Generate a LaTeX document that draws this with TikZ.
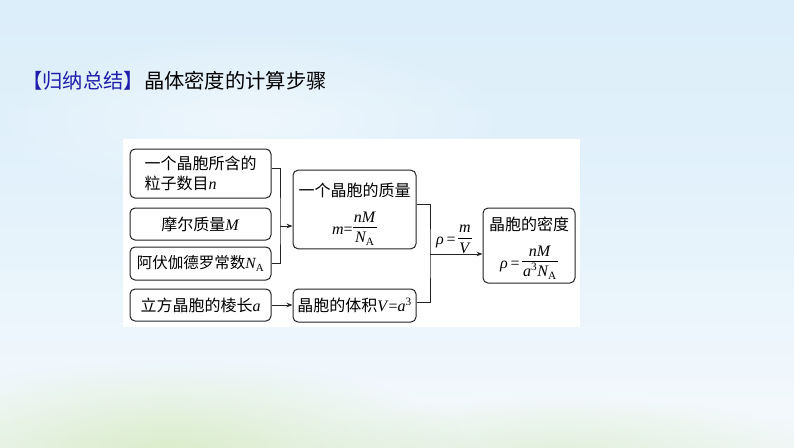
\documentclass[tikz,border=0pt]{standalone}
\usepackage{fontspec}
\setmainfont{Liberation Serif}
\newfontfamily\cjk{Noto Sans CJK SC}
\usetikzlibrary{arrows.meta,calc,fadings}
\definecolor{ttlblue}{RGB}{30,30,170}
\definecolor{bgT}{RGB}{212,234,248}
\definecolor{bgU}{RGB}{226,241,251}
\definecolor{bgM}{RGB}{242,248,252}
\definecolor{bgB}{RGB}{236,244,228}
\definecolor{grass}{RGB}{200,228,165}
\definecolor{lineC}{RGB}{35,35,35}
\pgfdeclareverticalshading{bgshade}{100bp}{color(0bp)=(bgB); color(30bp)=(bgM); color(55bp)=(bgU); color(100bp)=(bgT)}
\tikzfading[name=softfade, inner color=transparent!0, outer color=transparent!100]
\newcommand\frc[2]{\raisebox{0.1em}{\renewcommand\arraystretch{1.15}\setlength\tabcolsep{1pt}\setlength\arrayrulewidth{0.8pt}\begin{tabular}{c}#1\\[-1pt]\hline #2\end{tabular}}}
\newcommand\NA{\textit{N}\kern-0.5pt\textsubscript{A}}
\tikzset{
  box/.style={draw=lineC, line width=1pt, rounded corners=5pt, fill=white, inner sep=0pt,
    font=\fontsize{16}{20}\selectfont},
  conn/.style={draw=lineC, line width=0.9pt},
  arr/.style={conn, -{Stealth[length=6pt,width=4.5pt]}},
}
\begin{document}
\begin{tikzpicture}[x=1pt,y=-1pt]
\useasboundingbox (0,0) rectangle (794,447);
% background
\shade[shading=bgshade] (0,0) rectangle (794,447);
\fill[grass, opacity=0.55, path fading=softfade] (170,450) ellipse (300 and 90);
\fill[grass, opacity=0.35, path fading=softfade] (560,455) ellipse (260 and 60);
\fill[white, opacity=0.45, path fading=softfade] (250,120) ellipse (260 and 90);
% title
\node[anchor=west, inner sep=0pt, font=\fontsize{20.3}{24}\selectfont] (title) at (22,81)
  {\cjk\textcolor{ttlblue}{【归纳总结】}晶体密度的计算步骤};
% panel
\fill[white] (123,139) rectangle (580,327);
% boxes
\node[box, minimum width=141pt, minimum height=49pt, align=left] (b1) at (200.5,173.5)
  {{\cjk 一个晶胞所含的}\\{\cjk 粒子数目}\textit{n}};
\node[box, minimum width=141pt, minimum height=32pt] (b2) at (200.5,224) {{\cjk 摩尔质量}\textit{M}};
\node[box, minimum width=141pt, minimum height=33pt, font=\fontsize{15.5}{20}\selectfont] (b3) at (200.5,263.5) {{\cjk 阿伏伽德罗常数}\NA};
\node[box, minimum width=141pt, minimum height=32pt] (b4) at (200.5,305) {{\cjk 立方晶胞的棱长}\textit{a}};
\node[box, minimum width=123pt, minimum height=73pt, align=center] (b5) at (354.5,209.5)
  {\rule{0pt}{26pt}{\cjk 一个晶胞的质量}\\[9pt]{\fontsize{16}{18}\selectfont\textit{m}=\frc{\textit{nM}}{\NA}}};
\node[box, minimum width=123pt, minimum height=33pt] (b6) at (354.5,305.5) {{\cjk 晶胞的体积}\textit{V}=\textit{a}\textsuperscript{3}};
\node[box, minimum width=92pt, minimum height=75pt, align=center] (b7) at (529,245.5)
  {\rule{0pt}{22pt}{\cjk 晶胞的密度}\\[9pt]{\fontsize{16}{18}\selectfont\textit{ρ}\,=\,\frc{\textit{nM}}{\textit{a}\textsuperscript{3}\NA}}};
% connectors
\coordinate (j1) at (280,226);
\coordinate (j2) at (430,254);
\draw[conn] ($(b1.east)+(0,-5.5)$) -| (j1) |- (b3.east);
\draw[arr] (j1) -- (j1 -| b5.west);
\draw[arr] (b4.east) -- (b4.east -| b6.west);
\draw[conn] ($(b5.east)+(0,-5.5)$) -| (j2) |- ($(b6.east)+(0,-3)$);
\draw[arr] (j2) -- (j2 -| b7.west);
\node[inner sep=0pt, font=\fontsize{16}{18}\selectfont] (lab) at (454,239) {\textit{ρ}\,=\,\frc{\textit{m}}{\textit{V}}};
\end{tikzpicture}
\end{document}
